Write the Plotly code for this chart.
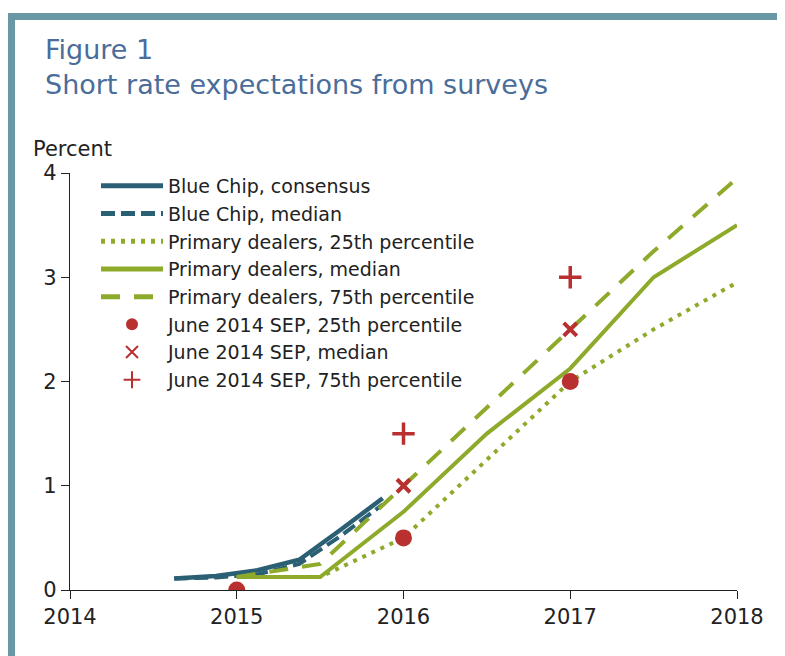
import plotly.graph_objects as go

# ---------------- data ----------------
bc_x = [2014.625, 2014.875, 2015.125, 2015.375, 2015.625, 2015.875]
bc_consensus = [0.11, 0.135, 0.19, 0.29, 0.58, 0.88]
bc_median = [0.11, 0.12, 0.15, 0.25, 0.52, 0.82]

pd_x = [2015, 2015.5, 2016, 2016.5, 2017, 2017.5, 2018]
pd_25 = [0.125, 0.125, 0.5, 1.25, 2.0, 2.5, 2.95]
pd_med = [0.125, 0.125, 0.75, 1.5, 2.125, 3.0, 3.5]
pd_75 = [0.125, 0.25, 1.0, 1.75, 2.5, 3.25, 3.95]

sep25_x = [2015, 2016, 2017]
sep25 = [0.0, 0.5, 2.0]
sepmed_x = [2016, 2017]
sepmed = [1.0, 2.5]
sep75_x = [2016, 2017]
sep75 = [1.5, 3.0]

x_ticks = [2014, 2015, 2016, 2017, 2018]
x_ticklabels = ["2014", "2015", "2016", "2017", "2018"]
y_ticks = [0, 1, 2, 3, 4]
y_ticklabels = ["0", "1", "2", "3", "4"]

names = [
    "Blue Chip, consensus",
    "Blue Chip, median",
    "Primary dealers, 25th percentile",
    "Primary dealers, median",
    "Primary dealers, 75th percentile",
    "June 2014 SEP, 25th percentile",
    "June 2014 SEP, median",
    "June 2014 SEP, 75th percentile",
]

# ---------------- style ----------------
BLUE = "#2b5f73"
GREEN = "#8eaa2b"
RED = "#b83130"
FRAME = "#6a97a4"
TITLE_C = "#4a6d9a"
TXT = "#222222"
FONT = "DejaVu Sans"

OFF = 8                      # page body margin
W, H = 785 - OFF, 656 - OFF  # figure size
# plot area in page pixels
PL, PR, PT, PB = 70 - OFF, 737 - OFF, 173 - OFF, 590 - OFF


def fx(px):
    return (px - OFF - PL) / (PR - PL)


def fy(py):
    return (PB - (py - OFF)) / (PB - PT)


fig = go.Figure()

fig.add_trace(go.Scatter(x=bc_x, y=bc_consensus, mode="lines", name=names[0],
                         line=dict(color=BLUE, width=4.5), legendgroup="a"))
fig.add_trace(go.Scatter(x=bc_x, y=bc_median, mode="lines", name=names[1],
                         line=dict(color=BLUE, width=4, dash="14px,6px"), legendgroup="b"))
fig.add_trace(go.Scatter(x=pd_x, y=pd_25, mode="lines", name=names[2],
                         line=dict(color=GREEN, width=4, dash="4px,6px"), legendgroup="c"))
fig.add_trace(go.Scatter(x=pd_x, y=pd_med, mode="lines", name=names[3],
                         line=dict(color=GREEN, width=4), legendgroup="d"))
fig.add_trace(go.Scatter(x=pd_x, y=pd_75, mode="lines", name=names[4],
                         line=dict(color=GREEN, width=4, dash="19px,14px"), legendgroup="e"))
fig.add_trace(go.Scatter(x=sep25_x, y=sep25, mode="markers", name=names[5],
                         marker=dict(symbol="circle", size=17, color=RED), legendgroup="f"))
fig.add_trace(go.Scatter(x=sepmed_x, y=sepmed, mode="markers", name=names[6],
                         marker=dict(symbol="x-thin", size=13, color=RED,
                                     line=dict(color=RED, width=4)), legendgroup="g"))
fig.add_trace(go.Scatter(x=sep75_x, y=sep75, mode="markers", name=names[7],
                         marker=dict(symbol="cross-thin", size=16, color=RED,
                                     line=dict(color=RED, width=3.5)), legendgroup="h"))

shapes = [
    # frame: top and left bars
    dict(type="rect", xref="paper", yref="paper", x0=fx(8), x1=fx(800), y0=fy(20), y1=fy(13),
         fillcolor=FRAME, line=dict(width=0), layer="below"),
    dict(type="rect", xref="paper", yref="paper", x0=fx(8), x1=fx(15), y0=fy(680), y1=fy(13),
         fillcolor=FRAME, line=dict(width=0), layer="below"),
]

annotations = [
    dict(text="Figure 1", xref="paper", yref="paper", x=fx(43), y=fy(49), xanchor="left",
         yanchor="middle", showarrow=False, font=dict(family=FONT, size=27, color=TITLE_C)),
    dict(text="Short rate expectations from surveys", xref="paper", yref="paper", x=fx(43), y=fy(85),
         xanchor="left", yanchor="middle", showarrow=False, font=dict(family=FONT, size=27, color=TITLE_C)),
    dict(text="Percent", xref="paper", yref="paper", x=fx(31), y=fy(149), xanchor="left",
         yanchor="middle", showarrow=False, font=dict(family=FONT, size=21, color=TXT)),
]

fig.update_layout(
    width=W, height=H,
    margin=dict(l=PL, r=W - PR, t=PT, b=H - PB, pad=0),
    paper_bgcolor="white", plot_bgcolor="white",
    font=dict(family=FONT, size=21, color=TXT),
    showlegend=True,
    legend=dict(x=fx(96), y=fy(167), xanchor="left", yanchor="top",
                bgcolor="rgba(0,0,0,0)", borderwidth=0,
                font=dict(family=FONT, size=19, color=TXT),
                itemwidth=62, tracegroupgap=6.5, itemsizing="constant", traceorder="normal"),
    shapes=shapes,
    annotations=annotations,
    xaxis=dict(range=[2014, 2018], tickvals=x_ticks, ticktext=x_ticklabels,
               showline=True, linecolor=TXT, linewidth=1.2, ticks="outside", ticklen=8,
               tickcolor=TXT, tickwidth=1.2, showgrid=False, zeroline=False, fixedrange=True),
    yaxis=dict(range=[0, 4], tickvals=y_ticks, ticktext=y_ticklabels,
               showline=True, linecolor=TXT, linewidth=1.2, ticks="outside", ticklen=8,
               tickcolor=TXT, tickwidth=1.2, showgrid=False, zeroline=False, fixedrange=True),
)

fig.write_html("out.html")
